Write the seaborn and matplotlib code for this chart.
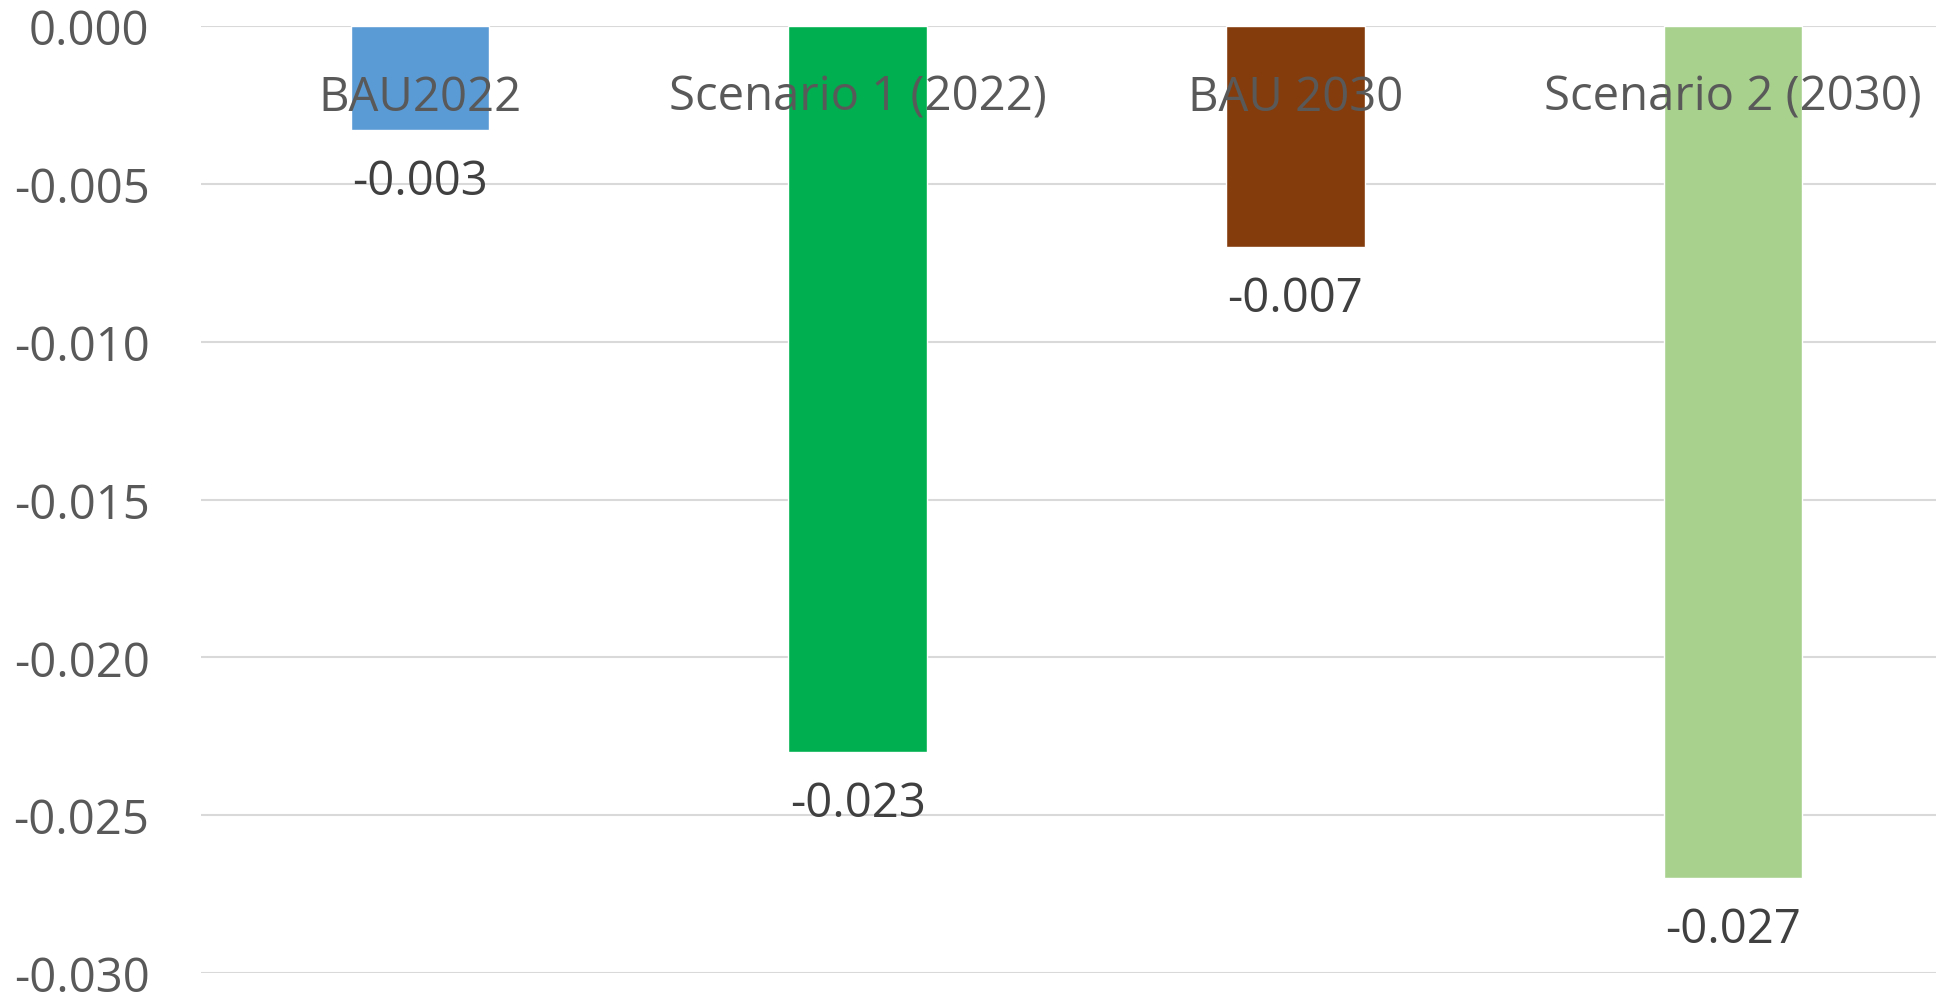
import matplotlib
matplotlib.use("Agg")
import matplotlib.pyplot as plt
import seaborn as sns
import pandas as pd

categories = ["BAU2022", "Scenario 1 (2022)", "BAU 2030", "Scenario 2 (2030)"]
values = [-0.0033, -0.0230, -0.0070, -0.0270]
value_labels = ["-0.003", "-0.023", "-0.007", "-0.027"]
colors = ["#5B9BD5", "#00B050", "#843C0C", "#A9D18E"]
yticks = [0.0, -0.005, -0.010, -0.015, -0.020, -0.025, -0.030]
ytick_labels = ["0.000", "-0.005", "-0.010", "-0.015", "-0.020", "-0.025", "-0.030"]

sns.set_theme(style="white")
plt.rcParams["font.family"] = ["Open Sans", "DejaVu Sans"]

W, H = 1936, 995
fig = plt.figure(figsize=(W / 100, H / 100), dpi=100)
left_px, top_px, bottom_px = 201, 27, 974
ax_w_px = 1751
ax = fig.add_axes([left_px / W, 1 - bottom_px / H, ax_w_px / W, (bottom_px - top_px) / H])

df = pd.DataFrame({"cat": categories, "val": values})
sns.barplot(data=df, x="cat", y="val", hue="cat", palette=colors, width=0.316,
            legend=False, ax=ax, saturation=1, dodge=False)

ax.set_ylim(-0.030, 0.0)
ax.set_xlim(-0.5, 3.5)
ax.set_yticks(yticks)
ax.set_yticklabels(ytick_labels)
ax.set_xticks([])
ax.set_xlabel("")
ax.set_ylabel("")
ax.tick_params(axis="y", length=0, pad=37, labelsize=34, labelcolor="#595959")
ax.grid(axis="y", color="#D9D9D9", linewidth=1.5)
ax.set_axisbelow(True)
for s in ax.spines.values():
    s.set_visible(False)

for i, (cat, v, lab) in enumerate(zip(categories, values, value_labels)):
    ax.annotate(cat, xy=(i, 0), xytext=(0, -51), textcoords="offset points",
                ha="center", va="center", fontsize=34, color="#595959", zorder=5)
    ax.annotate(lab, xy=(i, v), xytext=(0, -37), textcoords="offset points",
                ha="center", va="center", fontsize=34, color="#404040", zorder=5)

fig.savefig("out.png", dpi=100)
